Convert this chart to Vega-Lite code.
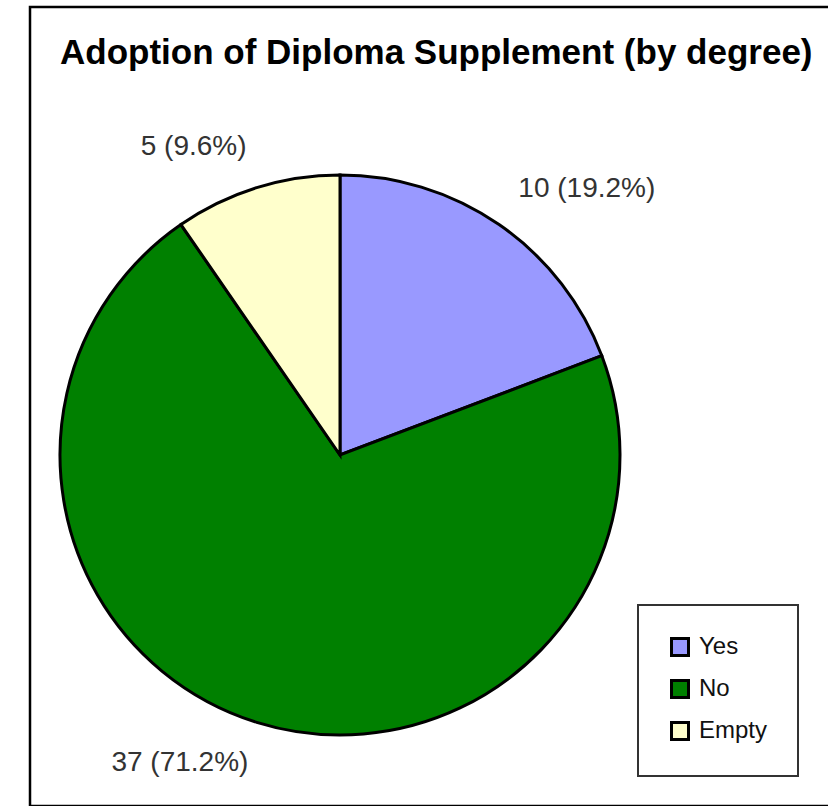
{
  "$schema": "https://vega.github.io/schema/vega-lite/v6.json",
  "autosize": "none",
  "width": 800,
  "height": 799,
  "padding": {"left": 30, "top": 7, "right": -2, "bottom": 0},
  "background": "white",
  "title": {
    "text": "Adoption of Diploma Supplement (by degree)",
    "anchor": "start",
    "frame": "group",
    "font": "Liberation Sans",
    "fontSize": 35,
    "fontWeight": "bold",
    "color": "black",
    "offset": 0,
    "baseline": "alphabetic",
    "dx": 30,
    "dy": 92
  },
  "data": {
    "values": [
      {"category": "Yes", "count": 10, "rank": 1, "label": "10 (19.2%)"},
      {"category": "No", "count": 37, "rank": 2, "label": "37 (71.2%)"},
      {"category": "Empty", "count": 5, "rank": 3, "label": "5 (9.6%)"}
    ]
  },
  "encoding": {
    "theta": {"field": "count", "type": "quantitative", "stack": true},
    "order": {"field": "rank", "type": "quantitative"},
    "x": {"value": 310},
    "y": {"value": 448}
  },
  "layer": [
    {
      "mark": {"type": "arc", "radius": 280, "stroke": "black", "strokeWidth": 3},
      "encoding": {
        "color": {
          "field": "category",
          "type": "nominal",
          "scale": {"domain": ["Yes", "No", "Empty"], "range": ["#9999FF", "#008000", "#FFFFCC"]},
          "legend": {
            "title": null,
            "orient": "none",
            "legendX": 608,
            "legendY": 598,
            "padding": 30,
            "strokeColor": "#333333",
            "fillColor": "white",
            "symbolType": "square",
            "symbolSize": 289,
            "symbolStrokeColor": "black",
            "symbolStrokeWidth": 3,
            "labelFont": "Liberation Sans",
            "labelFontSize": 24,
            "labelColor": "#111111",
            "labelOffset": 7,
            "rowPadding": 12
          }
        }
      }
    },
    {
      "mark": {"type": "text", "radius": 314, "align": "left", "baseline": "alphabetic", "font": "Liberation Sans", "fontSize": 28, "color": "#333333"},
      "encoding": {
        "detail": {"field": "category"},
        "text": {"condition": {"test": "datum.category === 'Yes'", "field": "label"}, "value": ""}
      }
    },
    {
      "mark": {"type": "text", "radius": 314, "align": "right", "baseline": "alphabetic", "font": "Liberation Sans", "fontSize": 28, "color": "#333333"},
      "encoding": {
        "detail": {"field": "category"},
        "text": {"condition": {"test": "datum.category === 'Empty'", "field": "label"}, "value": ""}
      }
    },
    {
      "mark": {"type": "text", "radius": 308, "align": "right", "baseline": "top", "font": "Liberation Sans", "fontSize": 28, "color": "#333333"},
      "encoding": {
        "detail": {"field": "category"},
        "text": {"condition": {"test": "datum.category === 'No'", "field": "label"}, "value": ""}
      }
    }
  ],
  "config": {
    "view": {"stroke": "black", "strokeWidth": 2.5},
    "legend": {"strokeWidth": 2}
  }
}
